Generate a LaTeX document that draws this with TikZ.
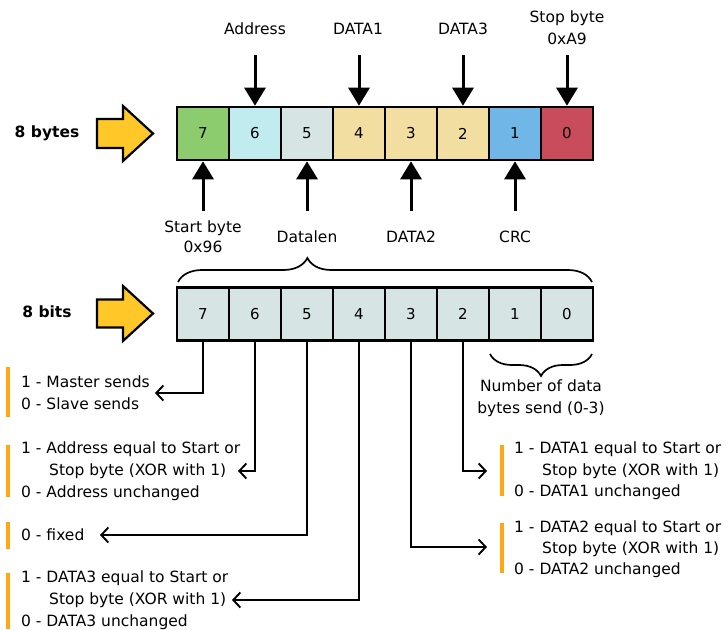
\documentclass[tikz,border=0pt]{standalone}
\usepackage{fontspec}
\setmainfont{DejaVu Sans}
\usetikzlibrary{arrows.meta,decorations.pathreplacing,calc}
\definecolor{cgreen}{RGB}{140,204,110}
\definecolor{ccyan}{RGB}{192,236,240}
\definecolor{cgrey}{RGB}{214,228,228}
\definecolor{ctan}{RGB}{242,222,160}
\definecolor{cblue}{RGB}{112,182,230}
\definecolor{cred}{RGB}{200,76,90}
\definecolor{cyel}{RGB}{255,200,40}
\definecolor{corange}{RGB}{255,168,20}
\tikzset{
  cell/.style={draw=black,line width=2.6pt,minimum width=52pt,minimum height=53pt,inner sep=0pt,font=\fontsize{15}{17}\selectfont},
  lbl/.style={font=\fontsize{15.5}{17}\selectfont,inner sep=0pt,text height=11.5pt,text depth=3.5pt},
  blbl/.style={font=\bfseries\fontsize{15.5}{17}\selectfont,inner sep=0pt,text height=11.5pt,text depth=3.5pt},
  tl/.style={lbl,anchor=west},
  bigarr/.style={line width=3pt,-{Triangle[length=18pt,width=21pt]}},
  bitarr/.style={line width=1.9pt,-{Straight Barb[length=7pt,width=15pt]}},
  yarrow/.style={draw=black,fill=cyel,line width=2.2pt,line join=miter},
  obar/.style={fill=corange},
  brc/.style={decorate,line width=1.7pt,decoration={brace,amplitude=#1}}
}
\begin{document}
\begin{tikzpicture}[x=1pt,y=-1pt]
\useasboundingbox (0,0) rectangle (728,629);
% big yellow arrows
\draw[yarrow] (97,119) -- (123,119) -- (123,106) -- (153,133.5) -- (123,161) -- (123,148) -- (97,148) -- cycle;
\draw[yarrow] (97,299.5) -- (123,299.5) -- (123,286) -- (153,313.5) -- (123,341) -- (123,327.5) -- (97,327.5) -- cycle;
\node[blbl] (lbytes) at (47,133.5) {8 bytes};
\node[blbl] (lbits) at (47,313.5) {8 bits};
% byte cells
\node[cell,fill=cgreen] (b7) at (203,133.5) {7};
\node[cell,fill=ccyan]  (b6) at (255,133.5) {6};
\node[cell,fill=cgrey]  (b5) at (307,133.5) {5};
\node[cell,fill=ctan]   (b4) at (359,133.5) {4};
\node[cell,fill=ctan]   (b3) at (411,133.5) {3};
\node[cell,fill=ctan]   (b2) at (463,133.5) {2};
\node[cell,fill=cblue]  (b1) at (515,133.5) {1};
\node[cell,fill=cred]   (b0) at (567,133.5) {0};
% bit cells
\foreach \i/\x in {7/203,6/255,5/307,4/359,3/411,2/463,1/515,0/567}
  \node[cell,fill=cgrey] (k\i) at (\x,314) {\i};
% top labels
\node[lbl] (lAddr) at (255,30) {Address};
\node[lbl] (lD1) at (358,30) {DATA1};
\node[lbl] (lD3) at (463,30) {DATA3};
\node[lbl] (lStop) at (567,19) {Stop byte};
\node[lbl] (lStopv) at (567,40) {0xA9};
\coordinate (aAddr) at (255,55);
\coordinate (aD1) at (359,55);
\coordinate (aD3) at (463,55);
\coordinate (aStop) at (567,55);
\draw[bigarr] (aAddr) -- (b6.north);
\draw[bigarr] (aD1) -- (b4.north);
\draw[bigarr] (aD3) -- (b2.north);
\draw[bigarr] (aStop) -- (b0.north);
% bottom labels
\node[lbl] (lStart) at (203,228) {Start byte};
\node[lbl] (lStartv) at (203,248) {0x96};
\node[lbl] (lLen) at (307,238) {Datalen};
\node[lbl] (lD2) at (411,238) {DATA2};
\node[lbl] (lCRC) at (515,238) {CRC};
\coordinate (aStart) at (203,211);
\coordinate (aLen) at (307,211);
\coordinate (aD2) at (411,211);
\coordinate (aCRC) at (515,211);
\draw[bigarr] (aStart) -- (b7.south);
\draw[bigarr] (aLen) -- (b5.south);
\draw[bigarr] (aD2) -- (b3.south);
\draw[bigarr] (aCRC) -- (b1.south);
% braces
\draw[brc=24pt,decoration={aspect=0.3125}] (178,282) -- (592,282);
\draw[brc=22pt] (592,354) -- (490,354);
\node[lbl] (lNum1) at (541,387) {Number of data};
\node[lbl] (lNum2) at (541,409) {bytes send (0-3)};
% left descriptions
\fill[obar] (6,367) rectangle (10,417);
\node[tl] (t7a) at (21,383) {1 - Master sends};
\node[tl] (t7b) at (21,405) {0 - Slave sends};
\fill[obar] (6,445) rectangle (10,497);
\node[tl] (t6a) at (21,449) {1 - Address equal to Start or};
\node[tl] (t6b) at (49,471) {Stop byte (XOR with 1)};
\node[tl] (t6c) at (21,493) {0 - Address unchanged};
\fill[obar] (6,522) rectangle (10,549);
\node[tl] (t5a) at (21,536) {0 - fixed};
\fill[obar] (6,573) rectangle (10,629);
\node[tl] (t4a) at (21,578) {1 - DATA3 equal to Start or};
\node[tl] (t4b) at (49,600) {Stop byte (XOR with 1)};
\node[tl] (t4c) at (21,622) {0 - DATA3 unchanged};
% right descriptions
\fill[obar] (500,445) rectangle (504,496);
\node[tl] (t2a) at (514,449) {1 - DATA1 equal to Start or};
\node[tl] (t2b) at (542,471) {Stop byte (XOR with 1)};
\node[tl] (t2c) at (514,492) {0 - DATA1 unchanged};
\fill[obar] (500,523) rectangle (504,573);
\node[tl] (t3a) at (514,528) {1 - DATA2 equal to Start or};
\node[tl] (t3b) at (542,549) {Stop byte (XOR with 1)};
\node[tl] (t3c) at (514,570) {0 - DATA2 unchanged};
% bit connectors
\coordinate (e7) at (155,393);
\coordinate (e6) at (238,471);
\coordinate (e5) at (100,535);
\coordinate (e4) at (232,600);
\coordinate (e2) at (487,471);
\coordinate (e3) at (487,547);
\draw[bitarr] (k7.south) |- (e7);
\draw[bitarr] (k6.south) |- (e6);
\draw[bitarr] (k5.south) |- (e5);
\draw[bitarr] (k4.south) |- (e4);
\draw[bitarr] (k2.south) |- (e2);
\draw[bitarr] (k3.south) |- (e3);
\end{tikzpicture}
\end{document}
